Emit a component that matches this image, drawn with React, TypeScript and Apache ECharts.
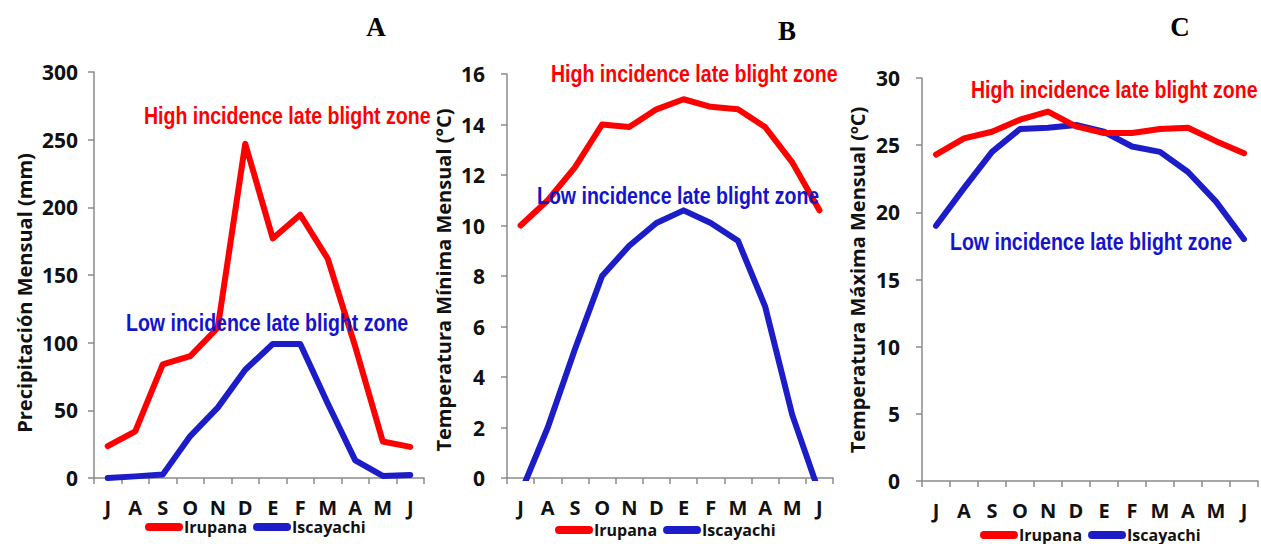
import React, { useEffect, useRef } from 'react';
import * as echarts from 'echarts';

const months = ['J', 'A', 'S', 'O', 'N', 'D', 'E', 'F', 'M', 'A', 'M', 'J'];
const seriesNames = ['Irupana', 'Iscayachi'];

const precipIrupana = [23.5, 34.5, 84, 90, 111, 247, 177, 194.5, 162, 97, 27, 23];
const precipIscayachi = [0, 1.2, 2.5, 31, 52, 80, 99, 99, 55, 13, 1.5, 2.2];

const tminIrupana = [10, 11.0, 12.3, 14, 13.9, 14.6, 15, 14.7, 14.6, 13.9, 12.5, 10.6];
const tminIscayachi = [-0.6, 2.0, 5.1, 8, 9.2, 10.1, 10.6, 10.1, 9.4, 6.8, 2.5, -0.6];

const tmaxIrupana = [24.3, 25.5, 26, 26.9, 27.5, 26.4, 25.9, 25.9, 26.2, 26.3, 25.3, 24.4];
const tmaxIscayachi = [19, 21.8, 24.5, 26.2, 26.3, 26.5, 26, 24.9, 24.5, 23, 20.8, 18];

const panelTitles = ['A', 'B', 'C'];
const yAxisNames = ['Precipitación Mensual (mm)', 'Temperatura Mínima Mensual (°C)', 'Temperatura Máxima Mensual (ºC)'];
const yMax = [300, 16, 30];
const yInterval = [50, 2, 5];
const highLabel = 'High incidence late blight zone';
const lowLabel = 'Low incidence late blight zone';

const RED = '#ff0000';
const BLUE = '#1c1cc8';
const BLUE_TEXT = '#1414cc';
const FONT = '"Open Sans", "Noto Sans", sans-serif';
const ANNOT = '"Liberation Sans", Arial, sans-serif';

const grids = [
  { left: 94, top: 72, width: 330, height: 406 },
  { left: 507, top: 74, width: 326, height: 404 },
  { left: 922, top: 78, width: 336, height: 403 },
];
const labelMargins = [16, 22, 22];
const legendPos = [
  { left: 145, top: 519 },
  { left: 555, top: 522 },
  { left: 980, top: 527 },
];
const titlePos = [
  { x: 376, y: 27 },
  { x: 787, y: 31 },
  { x: 1180, y: 27 },
];
const namePos = [
  { x: 24, y: 293 },
  { x: 443, y: 280 },
  { x: 857, y: 280 },
];
const highPos = [
  { x: 144, y: 116 },
  { x: 551, y: 74 },
  { x: 971, y: 90 },
];
const lowPos = [
  { x: 126, y: 323 },
  { x: 537, y: 196 },
  { x: 950, y: 242 },
];

const data = [
  [precipIrupana, precipIscayachi],
  [tminIrupana, tminIscayachi],
  [tmaxIrupana, tmaxIscayachi],
];

export default function App() {
  const ref = useRef<HTMLDivElement>(null);
  useEffect(() => {
    document.body.style.margin = '0';
    const chart = echarts.init(ref.current!, null, { renderer: 'svg' });
    const axisLine = { lineStyle: { color: '#8a8a8a', width: 1.5 } };
    const option: any = {
      animation: false,
      backgroundColor: '#ffffff',
      grid: grids.map((g) => ({ ...g, containLabel: false })),
      xAxis: grids.map((_, i) => ({
        type: 'category',
        gridIndex: i,
        data: months,
        boundaryGap: true,
        axisLine,
        axisTick: { show: true, length: 6, lineStyle: { color: '#8a8a8a', width: 1.5 } },
        axisLabel: { color: '#111', fontFamily: FONT, fontWeight: 'bold', fontSize: 20, margin: 19, interval: 0 },
        splitLine: { show: false },
      })),
      yAxis: grids.map((_, i) => ({
        type: 'value',
        gridIndex: i,
        min: 0,
        max: yMax[i],
        interval: yInterval[i],
        axisLine: { show: true, ...axisLine },
        axisTick: { show: true, length: 6, lineStyle: { color: '#8a8a8a', width: 1.5 } },
        axisLabel: { color: '#111', fontFamily: FONT, fontWeight: 'bold', fontSize: 21, margin: labelMargins[i] },
        splitLine: { show: false },
      })),
      legend: legendPos.map((p) => ({
        ...p,
        orient: 'horizontal',
        data: seriesNames,
        icon: 'path://M4,0 L34,0 A4,4,0,0,1,34,8 L4,8 A4,4,0,0,1,4,0 Z',
        itemWidth: 38,
        itemHeight: 8,
        itemGap: 6,
        textStyle: { color: '#111', fontFamily: FONT, fontWeight: 'bold', fontSize: 16, padding: [0, 0, 0, -4] },
        padding: 0,
      })),
      series: data.flatMap((pair, i) =>
        pair.map((vals, k) => ({
          type: 'line',
          name: seriesNames[k],
          xAxisIndex: i,
          yAxisIndex: i,
          data: vals,
          showSymbol: false,
          symbol: 'none',
          clip: true,
          color: k === 0 ? RED : BLUE,
          lineStyle: { color: k === 0 ? RED : BLUE, width: 6, cap: 'round', join: 'round' },
          z: k === 0 ? 3 : 2,
        }))
      ),
      graphic: [
        ...panelTitles.map((t, i) => ({
          type: 'text',
          x: titlePos[i].x,
          y: titlePos[i].y,
          style: { text: t, fill: '#000', font: 'bold 27px "Liberation Serif", "DejaVu Serif", serif', textAlign: 'center', textVerticalAlign: 'middle' },
        })),
        ...yAxisNames.map((t, i) => ({
          type: 'text',
          x: namePos[i].x,
          y: namePos[i].y,
          rotation: Math.PI / 2,
          style: { text: t, fill: '#111', font: `bold 20px ${FONT}`, textAlign: 'center', textVerticalAlign: 'middle' },
        })),
        ...highPos.map((p) => ({
          type: 'text',
          x: p.x,
          y: p.y,
          z: 10,
          scaleX: 0.85,
          style: { text: highLabel, fill: RED, font: `bold 23px ${ANNOT}`, textAlign: 'left', textVerticalAlign: 'middle' },
        })),
        ...lowPos.map((p) => ({
          type: 'text',
          x: p.x,
          y: p.y,
          z: 10,
          scaleX: 0.85,
          style: { text: lowLabel, fill: BLUE_TEXT, font: `bold 23px ${ANNOT}`, textAlign: 'left', textVerticalAlign: 'middle' },
        })),
      ],
    };
    chart.setOption(option);
    return () => chart.dispose();
  }, []);
  return <div ref={ref} style={{ width: 1261, height: 544 }} />;
}
